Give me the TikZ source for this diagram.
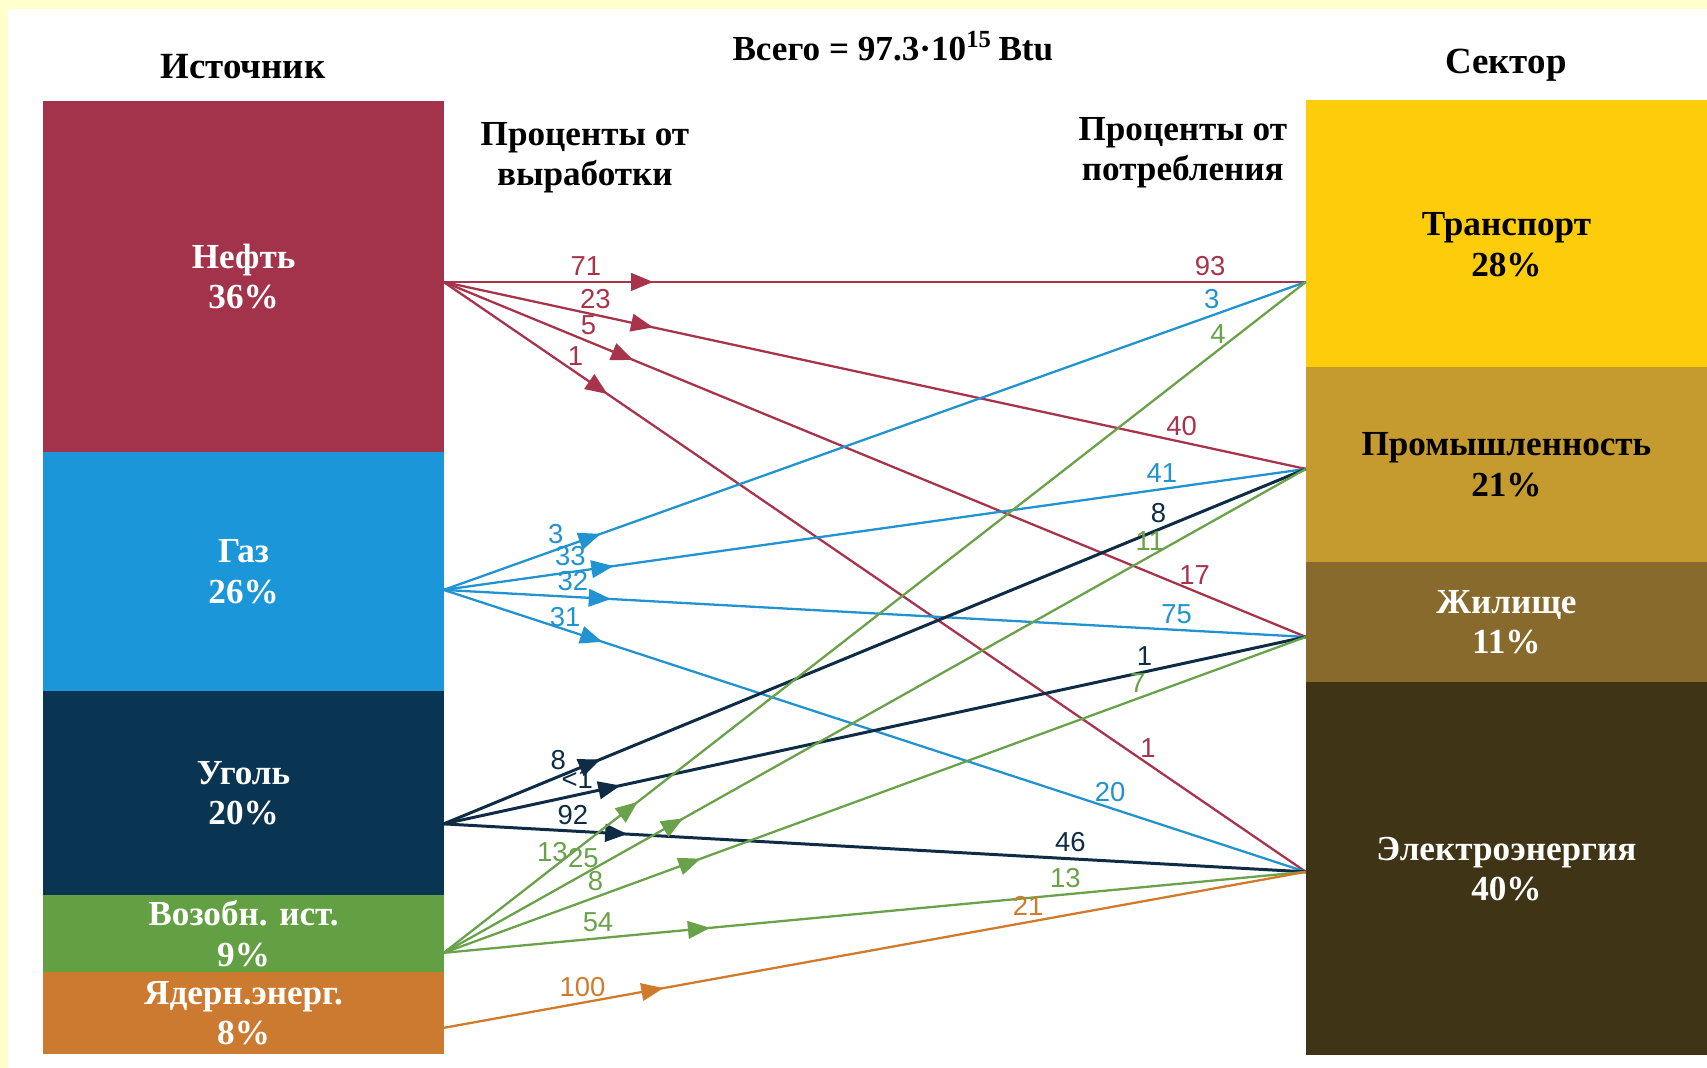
\documentclass[tikz,border=0pt]{standalone}
\usepackage{fontspec}
\setmainfont{Liberation Serif}
\newfontfamily\numfont{Liberation Sans}
\usetikzlibrary{positioning,arrows.meta,decorations.markings}

\definecolor{cBg}{HTML}{FFFFCC}
\definecolor{cOil}{HTML}{A3334A}
\definecolor{cGas}{HTML}{1B96D8}
\definecolor{cCoal}{HTML}{0A3552}
\definecolor{cRen}{HTML}{62A043}
\definecolor{cNuc}{HTML}{CC7A30}
\definecolor{cTr}{HTML}{FDCC0A}
\definecolor{cInd}{HTML}{C59A2E}
\definecolor{cRes}{HTML}{876A2C}
\definecolor{cEl}{HTML}{3F3415}
\definecolor{lnOil}{HTML}{A8344C}
\definecolor{lnGas}{HTML}{2193D0}
\definecolor{lnCoal}{HTML}{0E2C45}
\definecolor{lnRen}{HTML}{6AA24A}
\definecolor{lnNuc}{HTML}{D07B2B}

\begin{document}
\begin{tikzpicture}[x=0.01cm, y=-0.01cm,
  srcbox/.style={rectangle, minimum width=4cm, inner sep=0pt, outer sep=0pt,
    align=center, text=white, font=\bfseries\fontsize{10}{11.5}\selectfont},
  secbox/.style={srcbox, minimum width=4.01cm},
  title/.style={font=\bfseries\fontsize{10.5}{11.5}\selectfont, align=center},
  flow/.style={line width=0.65pt,
    decoration={markings, mark=at position #1 with {\arrow{Triangle[length=6.3pt,width=5pt]}}},
    postaction={decorate}},
  lbl/.style={above, inner sep=1.5pt, font=\numfont\fontsize{7.8}{8.5}\selectfont}
  ]
  % frame
  \fill[cBg] (0,0) rectangle (1707,1068);
  \fill[white] (8,9) rectangle (1707,1068);

  % titles
  \node[title] (src) at (243,67) {Источник};
  \node[title] (sec) at (1506,65) {Сектор};
  \node[title, font=\bfseries\fontsize{10}{11.5}\selectfont] (total) at (893,46)
    {Всего = 97.3·10\textsuperscript{15}\,Btu};
  \node[title, font=\bfseries\fontsize{10}{11.5}\selectfont] (pgen) at (585,158) {Проценты от\\выработки};
  \node[title, font=\bfseries\fontsize{10}{11.5}\selectfont] (pcon) at (1183,153) {Проценты от\\потребления};

  % sources
  \node[srcbox, fill=cOil, minimum height=3.51cm, anchor=north west] (oil) at (43.5,101) {Нефть\\36\%};
  \node[srcbox, fill=cGas, minimum height=2.39cm, below=0pt of oil] (gas) {Газ\\26\%};
  \node[srcbox, fill=cCoal, minimum height=2.04cm, below=0pt of gas] (coal) {Уголь\\20\%};
  \node[srcbox, fill=cRen, minimum height=0.77cm, below=0pt of coal] (ren) {Возобн. ист.\\9\%};
  \node[srcbox, fill=cNuc, minimum height=0.82cm, below=0pt of ren] (nuc) {Ядерн.энерг.\\8\%};

  % sectors
  \node[secbox, fill=cTr, minimum height=2.67cm, anchor=north west] (tr) at (1306,100) {};
  \node[srcbox, minimum width=0pt, text=black] (trtxt) at ([yshift=-0.11cm]tr.center) {Транспорт\\28\%};
  \node[secbox, fill=cInd, text=black, minimum height=1.95cm, below=0pt of tr] (ind) {Промышленность\\21\%};
  \node[secbox, fill=cRes, minimum height=1.2cm, below=0pt of ind] (res) {Жилище\\11\%};
  \node[secbox, fill=cEl, minimum height=3.73cm, below=0pt of res] (el) {Электроэнергия\\40\%};

  % ports
  \coordinate (oilp) at (oil.east |- 0,282);
  \coordinate (gasp) at (gas.east |- 0,590);
  \coordinate (coalp) at (coal.east |- 0,824);
  \coordinate (renp) at (ren.east |- 0,953);
  \coordinate (nucp) at (nuc.east |- 0,1028);
  \coordinate (trp) at (tr.west |- 0,282);
  \coordinate (indp) at (ind.west |- 0,469);
  \coordinate (resp) at (res.west |- 0,637);
  \coordinate (elp) at (el.west |- 0,872);

  % oil
  \draw[lnOil, flow=0.243] (oilp) -- node[lbl, pos=.165] {71} node[lbl, pos=.889] {93} (trp);
  \draw[lnOil, flow=0.243] (oilp) -- node[lbl, pos=.176] {23} node[lbl, pos=.856] {40} (indp);
  \draw[lnOil, flow=0.22] (oilp) -- node[lbl, pos=.168] {5} node[lbl, pos=.871] {17} (resp);
  \draw[lnOil, flow=0.19] (oilp) -- node[lbl, pos=.153] {1} node[lbl, pos=.817] {1} (elp);
  % gas
  \draw[lnGas, flow=0.182] (gasp) -- node[lbl, pos=.13] {3} node[lbl, pos=.891] {3} (trp);
  \draw[lnGas, flow=0.197] (gasp) -- node[lbl, pos=.147] {33} node[lbl, pos=.833] {41} (indp);
  \draw[lnGas, flow=0.194] (gasp) -- node[lbl, pos=.15] {32} node[lbl, pos=.85] {75} (resp);
  \draw[lnGas, flow=0.184] (gasp) -- node[lbl, pos=.141, above=-1pt] {31} node[lbl, pos=.773] {20} (elp);
  % coal
  \draw[lnCoal, flow=0.182, line width=0.85pt] (coalp) -- node[lbl, pos=.133] {8} node[lbl, pos=.829] {8} (indp);
  \draw[lnCoal, flow=0.205, line width=0.85pt] (coalp) -- node[lbl, pos=.155, above=0pt] {<1} node[lbl, pos=.813] {1} (resp);
  \draw[lnCoal, flow=0.213, line width=0.85pt] (coalp) -- node[lbl, pos=.15] {92} node[lbl, pos=.727] {46} (elp);
  % renewables
  \draw[lnRen, flow=0.225] (renp) -- node[lbl, pos=.126] {13} node[lbl, pos=.898] {4} (trp);
  \draw[lnRen, flow=0.278] (renp) -- node[lbl, pos=.162] {25} node[lbl, pos=.819, above=0pt] {11} (indp);
  \draw[lnRen, flow=0.298] (renp) -- node[lbl, pos=.176] {8} node[lbl, pos=.805, above=0pt] {7} (resp);
  \draw[lnRen, flow=0.309] (renp) -- node[lbl, pos=.179] {54} node[lbl, pos=.721] {13} (elp);
  % nuclear
  \draw[lnNuc, flow=0.255] (nucp) -- node[lbl, pos=.161] {100} node[lbl, pos=.678, above=0pt] {21} (elp);
\end{tikzpicture}
\end{document}
